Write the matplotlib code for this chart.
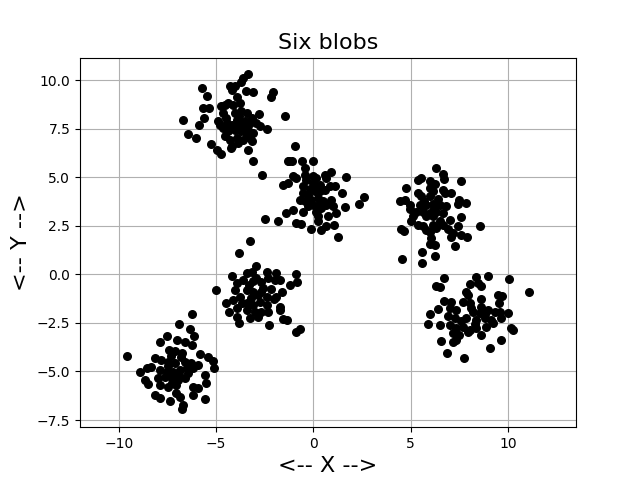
"""
Scatter plot of six point clusters.

"""
import matplotlib
matplotlib.use("Agg")
import matplotlib.pyplot as plt
import numpy as np

# (x, y) points, one list per blob
blob_top_left = [
    (-3.36, 10.35), (-3.62, 10.12), (-3.70, 9.90), (-4.30, 9.73), (-4.01, 9.73),
    (-4.21, 9.52), (-3.48, 9.43), (-3.10, 9.40), (-5.72, 9.59), (-5.46, 9.21),
    (-2.07, 9.40), (-2.16, 9.12), (-3.95, 9.14), (-5.67, 8.58), (-5.36, 8.58),
    (-4.56, 8.75), (-3.79, 8.83), (-6.70, 7.97), (-5.63, 8.06), (-5.88, 7.72),
    (-6.44, 7.25), (-6.05, 7.03), (-5.27, 6.73), (-4.98, 6.39), (-4.73, 6.20),
    (-4.25, 6.51), (-3.36, 6.39), (-3.13, 5.82), (-1.47, 8.14), (-2.79, 8.28),
    (-2.38, 7.49), (-4.73, 8.66), (-4.39, 8.83), (-4.13, 8.75), (-4.64, 8.32),
    (-4.90, 7.89), (-4.47, 8.06), (-4.04, 8.32), (-3.70, 8.40), (-3.44, 8.32),
    (-3.18, 8.06), (-2.93, 7.80), (-2.76, 7.63), (-3.95, 7.97), (-4.21, 7.72),
    (-3.79, 7.72), (-3.53, 7.89), (-4.64, 7.54), (-4.39, 7.37), (-4.04, 7.46),
    (-3.70, 7.37), (-3.36, 7.46), (-3.10, 7.29), (-4.56, 7.11), (-4.30, 6.94),
    (-3.95, 7.03), (-3.62, 6.94), (-3.27, 7.03), (-4.21, 6.60), (-3.87, 6.77),
    (-4.81, 7.72), (-3.18, 6.85), (-3.44, 7.20), (-4.10, 7.60), (-3.60, 7.60),
    (-4.45, 7.80), (-3.85, 8.15), (-3.30, 7.75),
]

blob_center = [
    (-0.96, 6.63), (-1.30, 5.82), (-1.25, 5.82), (-1.08, 5.82), (-0.57, 5.86),
    (-0.02, 5.82), (-2.64, 5.10), (-0.45, 5.48), (-0.45, 5.14), (-1.05, 5.05),
    (-0.87, 4.97), (-0.02, 5.05), (0.15, 4.97), (0.58, 5.14), (0.92, 5.27),
    (0.67, 4.97), (1.69, 5.02), (-1.56, 4.62), (-1.30, 4.71), (-0.53, 4.53),
    (-0.02, 4.71), (0.32, 4.62), (0.84, 4.53), (1.09, 4.53), (-0.53, 4.19),
    (-0.28, 4.10), (0.07, 4.28), (0.32, 4.28), (0.58, 4.36), (1.49, 4.19),
    (-0.70, 3.85), (-0.45, 3.76), (-0.10, 3.85), (0.24, 3.93), (0.49, 3.76),
    (0.92, 3.85), (2.60, 3.97), (2.34, 3.64), (-0.28, 3.50), (0.07, 3.50),
    (0.41, 3.42), (0.67, 3.59), (1.01, 3.50), (1.61, 3.47), (-1.39, 3.16),
    (-1.05, 3.30), (-0.53, 3.24), (0.15, 3.24), (0.24, 2.99), (0.75, 2.99),
    (1.18, 3.16), (-2.50, 2.87), (-1.82, 2.73), (-0.87, 2.65), (-0.62, 2.61),
    (0.24, 2.73), (0.41, 2.30), (0.67, 2.47), (-0.10, 2.35), (1.06, 2.56),
    (1.27, 1.94), (0.15, 4.45), (-0.36, 4.88), (0.32, 3.68), (-0.20, 4.40),
]

blob_right_top = [
    (6.32, 5.48), (6.66, 5.17), (6.69, 4.93), (5.37, 4.88), (5.55, 4.97),
    (5.97, 4.83), (6.23, 4.66), (7.57, 4.83), (4.74, 4.45), (5.97, 4.45),
    (6.14, 4.28), (6.66, 4.36), (6.74, 4.19), (7.09, 4.19), (5.37, 4.19),
    (5.55, 4.02), (5.97, 4.02), (4.43, 3.80), (4.69, 3.85), (4.95, 3.59),
    (7.51, 3.85), (7.86, 3.68), (7.43, 3.63), (5.46, 3.59), (5.80, 3.59),
    (6.14, 3.63), (6.49, 3.59), (6.83, 3.50), (4.95, 3.38), (5.29, 3.24),
    (5.63, 3.24), (5.97, 3.16), (6.32, 3.24), (6.66, 3.16), (5.80, 2.99),
    (6.14, 2.99), (5.12, 2.99), (5.03, 2.73), (7.57, 2.96), (7.00, 2.82),
    (6.49, 2.73), (6.66, 2.56), (5.37, 2.56), (5.63, 2.47), (6.14, 2.56),
    (6.32, 2.39), (4.52, 2.35), (4.64, 2.25), (5.80, 2.30), (5.97, 2.21),
    (6.91, 2.35), (7.43, 2.47), (8.54, 2.52), (7.17, 2.13), (7.09, 1.95),
    (7.60, 2.04), (7.89, 1.95), (6.06, 1.87), (6.23, 1.53), (5.97, 1.56),
    (7.26, 1.47), (5.60, 1.13), (5.58, 0.61), (6.27, 0.97), (4.55, 0.79),
    (6.20, 3.40), (5.70, 3.80), (6.40, 3.90),
]

blob_center_low = [
    (-3.27, 1.70), (-3.82, 1.10), (-2.93, 0.44), (-4.21, -0.07), (-3.44, 0.07),
    (-3.18, 0.15), (-2.41, 0.15), (-1.90, 0.07), (-0.87, 0.03), (-0.82, -0.37),
    (-5.02, -0.79), (-3.95, -0.45), (-3.62, -0.28), (-2.93, -0.19), (-2.67, -0.37),
    (-2.33, -0.19), (-1.99, -0.28), (-1.73, -0.28), (-1.22, -0.57), (-4.04, -0.79),
    (-3.44, -0.79), (-3.10, -0.88), (-2.59, -0.71), (-2.16, -0.76), (-1.64, -0.88),
    (-3.79, -1.14), (-2.85, -1.05), (-2.41, -1.14), (-1.90, -1.14), (-4.47, -1.48),
    (-4.13, -1.31), (-3.44, -1.48), (-3.10, -1.57), (-2.76, -1.40), (-2.41, -1.57),
    (-1.73, -1.66), (-1.73, -1.83), (-4.34, -1.91), (-3.95, -1.74), (-3.44, -1.83),
    (-3.01, -1.91), (-2.67, -1.91), (-2.33, -1.91), (-3.95, -2.20), (-3.27, -2.25),
    (-2.85, -2.20), (-3.82, -2.51), (-2.28, -2.60), (-1.56, -2.31), (-1.36, -2.37),
    (-0.87, -2.94), (-0.70, -2.82), (-3.65, -1.45), (-2.05, -1.25), (-3.30, -0.55),
    (-3.10, -0.35), (-2.70, -0.90), (-3.20, -1.20),
]

blob_right_low = [
    (6.71, -0.16), (8.37, -0.11), (8.97, -0.06), (10.08, -0.24), (11.07, -0.91),
    (6.32, -0.62), (6.52, -0.67), (8.03, -0.48), (8.45, -0.42), (8.63, -0.62),
    (7.86, -0.88), (7.94, -1.05), (9.48, -1.05), (9.71, -1.09), (9.53, -1.48),
    (6.69, -1.35), (7.09, -1.40), (7.68, -1.40), (8.03, -1.48), (8.63, -1.27),
    (8.63, -1.66), (6.40, -1.79), (5.97, -2.05), (5.89, -2.55), (7.00, -1.74),
    (7.34, -1.83), (8.20, -1.91), (8.54, -2.00), (8.97, -1.83), (9.31, -1.91),
    (9.57, -1.91), (9.99, -2.00), (6.49, -2.60), (6.91, -2.16), (7.26, -2.25),
    (7.86, -2.25), (8.37, -2.34), (8.80, -2.25), (9.14, -2.34), (9.66, -2.25),
    (7.00, -2.60), (7.34, -2.77), (7.68, -2.69), (8.03, -2.86), (8.37, -2.77),
    (8.89, -2.69), (9.22, -2.51), (10.17, -2.77), (10.25, -2.86), (7.17, -3.03),
    (7.51, -3.11), (7.94, -2.94), (8.63, -3.11), (6.57, -3.42), (7.17, -3.46),
    (7.34, -3.37), (9.66, -3.37), (9.06, -3.80), (6.87, -4.06), (7.74, -4.32),
    (8.10, -1.75), (8.30, -2.55), (7.60, -2.40), (8.80, -2.05),
]

blob_bottom_left = [
    (-6.23, -2.05), (-6.92, -2.55), (-6.35, -2.81), (-6.13, -3.15), (-7.55, -3.17),
    (-7.89, -3.49), (-6.99, -3.37), (-6.61, -3.46), (-6.23, -3.63), (-7.41, -3.89),
    (-7.12, -3.94), (-6.75, -4.06), (-9.57, -4.20), (-5.84, -4.11), (-5.41, -4.23),
    (-8.15, -4.32), (-7.81, -4.40), (-7.47, -4.49), (-7.12, -4.57), (-6.61, -4.49),
    (-6.27, -4.57), (-5.93, -4.66), (-5.16, -4.46), (-5.11, -4.83), (-8.92, -5.01),
    (-8.58, -4.83), (-8.33, -4.75), (-7.89, -4.92), (-7.55, -5.01), (-7.21, -5.01),
    (-6.87, -4.92), (-6.52, -4.83), (-6.18, -4.83), (-8.66, -5.44), (-8.49, -5.66),
    (-7.98, -5.35), (-7.64, -5.27), (-7.29, -5.35), (-6.95, -5.44), (-6.61, -5.35),
    (-5.58, -5.18), (-5.50, -5.61), (-7.89, -5.70), (-7.47, -5.78), (-7.04, -5.70),
    (-6.18, -5.78), (-5.93, -5.86), (-8.15, -6.21), (-7.89, -6.38), (-7.38, -6.52),
    (-7.04, -6.12), (-6.87, -6.30), (-6.18, -6.21), (-5.58, -6.43), (-6.70, -6.72),
    (-6.78, -6.93), (-7.30, -4.20), (-6.80, -4.25), (-7.50, -4.70), (-6.90, -5.20),
    (-6.45, -5.10), (-7.25, -5.60),
]

blobs = [blob_top_left, blob_center, blob_right_top,
         blob_center_low, blob_right_low, blob_bottom_left]

points = np.array([p for blob in blobs for p in blob])

fig, ax = plt.subplots(figsize=(6.4, 4.8), dpi=100)
ax.scatter(points[:, 0], points[:, 1], c="black", s=30)
ax.set_xlim(-12.0, 13.5)
ax.set_ylim(-7.87, 11.17)
ax.set_title("Six blobs", fontsize=16)
ax.set_xlabel("<-- X -->", fontsize=16)
ax.set_ylabel("<-- Y -->", fontsize=16)
ax.grid(True)
ax.set_axisbelow(True)

fig.savefig("out.png")
